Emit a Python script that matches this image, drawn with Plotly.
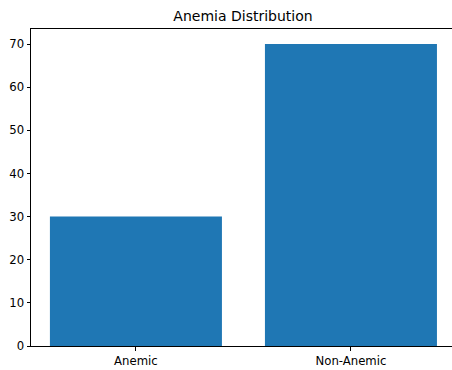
import plotly.graph_objects as go

categories = ["Anemic", "Non-Anemic"]
counts = [30, 70]

fig = go.Figure(go.Bar(x=[0, 1], y=counts, marker=dict(color="#1f77b4", line=dict(width=0)), width=0.8))

fig.update_layout(
    width=452, height=370,
    margin=dict(l=31, r=0, t=29, b=23.5, autoexpand=False),
    plot_bgcolor="white", paper_bgcolor="white",
    font=dict(family="DejaVu Sans", size=11.7, color="black"),
    title=dict(text="Anemia Distribution", x=243/452, xanchor="center", y=1 - 16/370, yanchor="middle",
               font=dict(family="DejaVu Sans", size=14, color="black"), automargin=False),
    showlegend=False,
)
fig.update_xaxes(
    range=[-0.488, 1.470], tickmode="array", tickvals=[0, 1], ticktext=categories,
    showgrid=False, zeroline=False, showline=True, linecolor="black", linewidth=1, mirror=True,
    ticks="outside", ticklen=3.5, tickcolor="black", tickwidth=0.8, automargin=False,
)
fig.update_yaxes(
    range=[0, 73.5], dtick=10, tick0=0,
    showgrid=False, zeroline=False, showline=True, linecolor="black", linewidth=1, mirror=False,
    ticks="outside", ticklen=3.5, tickcolor="black", tickwidth=0.8, automargin=False,
)

fig.write_html("out.html", config={"displayModeBar": False},
               post_script="document.body.style.margin='0';document.body.style.overflow='hidden';")
